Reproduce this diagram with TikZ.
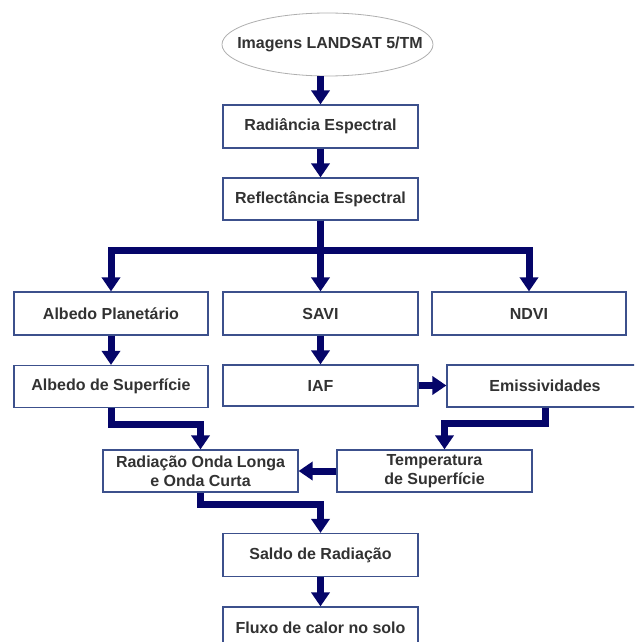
\documentclass[tikz,border=0pt]{standalone}
\usepackage{fontspec}
\setmainfont{Liberation Sans}
\usetikzlibrary{arrows.meta,shapes.geometric}
\definecolor{navy}{RGB}{5,5,105}
\definecolor{boxc}{RGB}{60,80,140}
\definecolor{txt}{RGB}{50,50,50}
\definecolor{ellc}{RGB}{175,175,175}
\begin{document}
\begin{tikzpicture}[x=1pt,y=-1pt,
  box/.style={draw=boxc, line width=1.2pt, fill=white, minimum width=195pt,
    minimum height=42pt, inner sep=0pt, text=txt, align=center,
    font=\fontsize{16}{19}\selectfont\bfseries},
  ellbox/.style={ellipse, draw=ellc, line width=0.8pt, fill=white, minimum width=211pt,
    minimum height=63pt, inner sep=0pt, text=txt,
    font=\fontsize{16}{19}\selectfont\bfseries},
  arr/.style={draw=navy, line width=7pt, line join=miter,
    -{Triangle[width=18pt,length=14pt]}}]
\useasboundingbox (0,0) rectangle (634,642);
\clip (0,0) rectangle (634,642);
\node[ellbox] (ell) at (327.5,44.5) {\makebox[0pt]{\hspace{5pt}Imagens LANDSAT 5/TM}};
\node[box, minimum height=43pt] (rad) at (320.5,126.5) {Radiância Espectral};
\node[box] (refl) at (320.5,199) {Reflectância Espectral};
\node[box, minimum width=194pt, minimum height=43pt] (albp) at (111,313.5) {Albedo Planetário};
\node[box, minimum height=43pt] (savi) at (320.5,313.5) {SAVI};
\node[box, minimum width=194pt, minimum height=43pt] (ndvi) at (529,313.5) {NDVI};
\node[box, minimum width=194pt] (albs) at (111,386.5) {Albedo de Superfície};
\node[box, minimum height=41pt] (iaf) at (320.5,385.5) {IAF};
\node[box, minimum width=196pt] (emis) at (545,386) {Emissividades};
\node[box] (rol) at (200.5,471) {Radiação Onda Longa\\e Onda Curta};
\node[box] (temp) at (434.5,471) {Temperatura\\de Superfície};
\node[box, minimum height=43pt] (saldo) at (320.5,555) {Saldo de Radiação};
\node[box] (fluxo) at (320.5,628) {Fluxo de calor no solo};
\draw[arr] (rad.north |- ell.south) -- (rad.north);
\draw[arr] (rad) -- (refl);
\draw[arr] (refl.south) -- ++(0,30) -| (albp.north);
\draw[arr] (refl.south) -- ++(0,30) -| (ndvi.north);
\draw[arr] (refl) -- (savi);
\draw[arr] (albp) -- (albs);
\draw[arr] (savi) -- (iaf);
\draw[arr] (iaf.east) -- (iaf.east -| emis.west);
\draw[arr] (albs.south) -- ++(0,16) -| (rol.north);
\draw[arr] (emis.south) -- ++(0,16) -| ([xshift=10pt]temp.north);
\draw[arr] (temp.west) -- (rol.east);
\draw[arr] (rol.south) -- ++(0,12) -| (saldo.north);
\draw[arr] (saldo) -- (fluxo);
\end{tikzpicture}
\end{document}
